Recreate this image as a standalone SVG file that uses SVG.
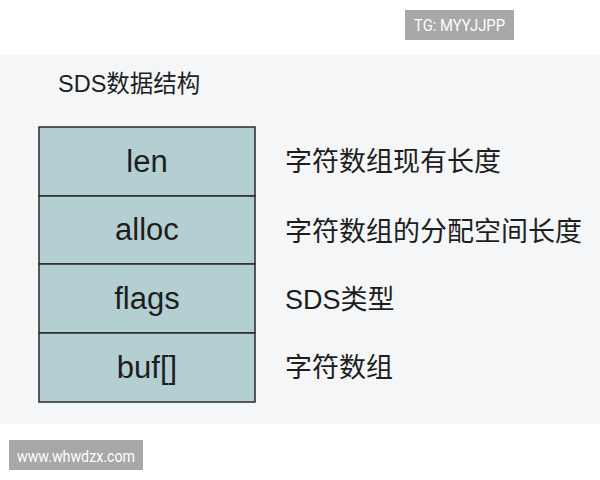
<svg xmlns="http://www.w3.org/2000/svg" width="600" height="480" viewBox="0 0 600 480">
<style>
text{font-family:"Liberation Sans","Noto Sans CJK SC",sans-serif;fill:#1e1e1e}
.cell{fill:#b4cfd1;stroke:#2a2a2a;stroke-width:1.5}
.ct{font-size:31px;text-anchor:middle}
.lbl{font-size:27px}
.badge{fill:#a8a8a8}
.bt{fill:#ffffff;font-family:Roboto,"Liberation Sans",sans-serif}
</style>
<rect x="0" y="0" width="600" height="480" fill="#ffffff"/>
<rect x="0" y="55" width="600" height="369" fill="#f4f6f7"/>
<g id="badge-tg">
<rect class="badge" x="405" y="10" width="109" height="30"/>
<text class="bt" x="414" y="31" font-size="16" textLength="91" lengthAdjust="spacingAndGlyphs">TG: MYYJJPP</text>
</g>
<text id="title" x="58" y="92" font-size="23.5">SDS数据结构</text>
<g id="row-len">
<rect class="cell" x="39" y="127" width="216" height="69"/>
<text class="ct" x="147" y="172">len</text>
</g>
<g id="row-alloc">
<rect class="cell" x="39" y="196" width="216" height="68"/>
<text class="ct" x="147" y="240">alloc</text>
</g>
<g id="row-flags">
<rect class="cell" x="39" y="264" width="216" height="69"/>
<text class="ct" x="147" y="309">flags</text>
</g>
<g id="row-buf">
<rect class="cell" x="39" y="333" width="216" height="69"/>
<text class="ct" x="147" y="378">buf[]</text>
</g>
<g id="labels">
<text class="lbl" x="285" y="171">字符数组现有长度</text>
<text class="lbl" x="285" y="241">字符数组的分配空间长度</text>
<text class="lbl" x="285" y="309">SDS类型</text>
<text class="lbl" x="285" y="377">字符数组</text>
</g>
<g id="connectors"></g>
<g id="badge-www">
<rect class="badge" x="9" y="440" width="134" height="30"/>
<text class="bt" x="17" y="462" font-size="17" textLength="118" lengthAdjust="spacingAndGlyphs">www.whwdzx.com</text>
</g>
</svg>
